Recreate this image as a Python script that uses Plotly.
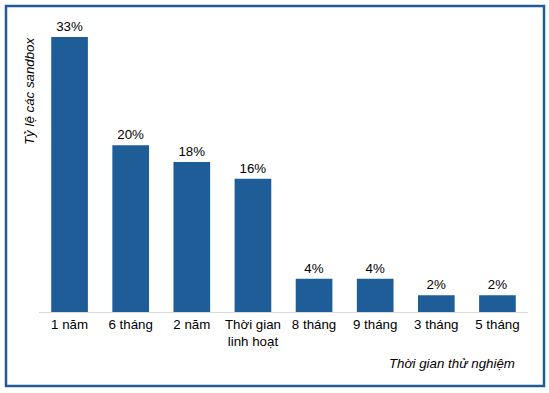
import plotly.graph_objects as go

categories = ["1 năm", "6 tháng", "2 năm", "Thời gian<br>linh hoạt", "8 tháng", "9 tháng", "3 tháng", "5 tháng"]
values = [33, 20, 18, 16, 4, 4, 2, 2]
labels = [f"{v}%" for v in values]

W, H = 549, 393
L, R, T, B = 39, 21, 20, 81
pw, ph = W - L - R, H - T - B

def px(x):
    return (x - L) / pw

def py(y):
    return (H - B - y) / ph

bar_color = "#1F5D99"
font_family = "Liberation Sans, Arial, sans-serif"
FS = 13.3

fig = go.Figure(go.Bar(
    x=categories, y=values, text=labels, textposition="outside",
    marker=dict(color=bar_color, line=dict(width=0)),
    textfont=dict(family=font_family, size=FS, color="#000000"),
    cliponaxis=False, width=0.6,
))

fig.update_layout(
    width=W, height=H,
    margin=dict(l=L, r=R, t=T, b=B),
    paper_bgcolor="white", plot_bgcolor="white",
    showlegend=False,
    font=dict(family=font_family, size=FS, color="#000000"),
    xaxis=dict(showline=True, linecolor="#D9D9D9", linewidth=1, ticks="",
               tickfont=dict(size=FS, color="#000000"), showgrid=False),
    yaxis=dict(visible=False, range=[0, 33 * ph / 275], showgrid=False),
    shapes=[dict(type="rect", xref="paper", yref="paper",
                 x0=px(6), x1=px(544), y0=py(386), y1=py(6),
                 line=dict(color="#1F5D99", width=2.5), layer="above")],
    annotations=[
        dict(text="<i>Tỷ lệ các sandbox</i>", textangle=-90, xref="paper", yref="paper",
             x=px(30), y=py(91), xanchor="center", yanchor="middle", showarrow=False,
             font=dict(size=FS, color="#000000")),
        dict(text="<i>Thời gian thử nghiệm</i>", xref="paper", yref="paper",
             x=px(517), y=py(363), xanchor="right", yanchor="middle", showarrow=False,
             font=dict(size=FS, color="#000000")),
    ],
)

fig.write_html("out.html", config={"displayModeBar": False},
               post_script="document.body.style.margin='0';document.body.style.overflow='hidden';")
